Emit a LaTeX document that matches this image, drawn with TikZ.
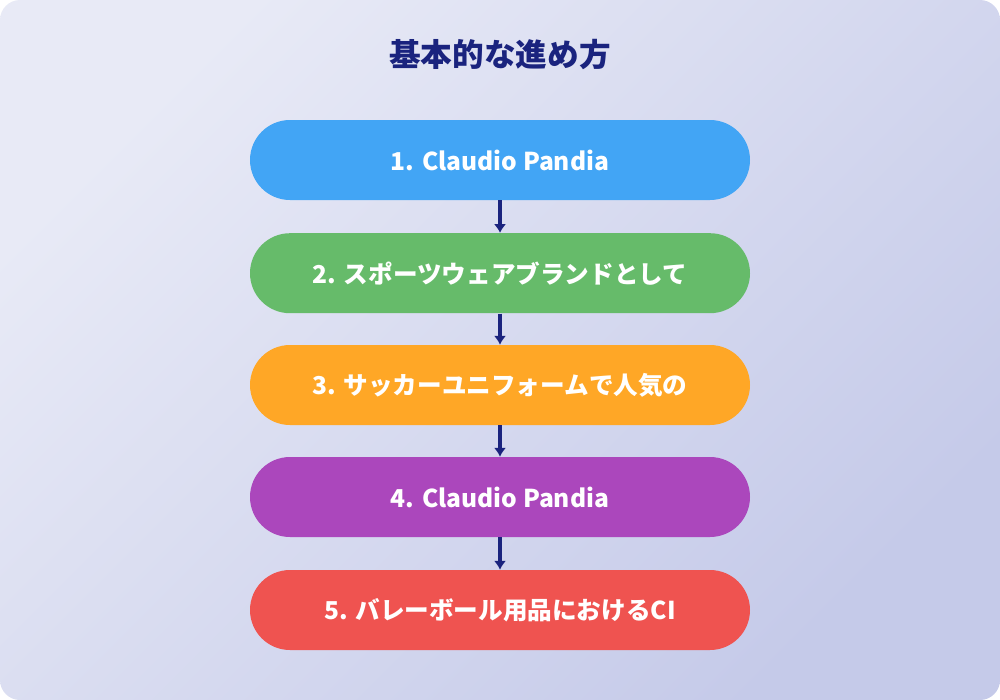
\documentclass[tikz,border=0pt]{standalone}
\usepackage{fontspec}
\setmainfont{Noto Sans CJK JP}
\usetikzlibrary{positioning,arrows.meta}
\definecolor{navy}{HTML}{1A237E}
\definecolor{bgA}{HTML}{E8EAF6}
\definecolor{bgB}{HTML}{C5CAE9}
\definecolor{stepA}{HTML}{42A5F5}
\definecolor{stepB}{HTML}{66BB6A}
\definecolor{stepC}{HTML}{FFA726}
\definecolor{stepD}{HTML}{AB47BC}
\definecolor{stepE}{HTML}{EF5350}
\tikzset{
  stage/.style={draw=none, rounded corners=0.8cm, minimum width=10cm, minimum height=1.6cm,
    text=white, font=\bfseries\fontsize{14}{17}\selectfont},
  link/.style={navy, line width=2pt, -{Latex[length=5pt,width=7pt]}}
}
\begin{document}
\begin{tikzpicture}
\useasboundingbox (0,0) rectangle (20,-14);
\shade[left color=bgA, right color=bgB, shading angle=45, rounded corners=0.4cm]
  (0,0) rectangle (20,-14);
\node[text=navy, font=\bfseries\fontsize{18}{21}\selectfont] (title) at (10,-1.1) {基本的な進め方};
\node[stage, fill=stepA] (s1) at (10,-3.2) {1. Claudio Pandia};
\node[stage, fill=stepB, below=0.65cm of s1.south, anchor=north] (s2) {2. スポーツウェアブランドとして};
\node[stage, fill=stepC, at={(10,-7.7)}] (s3) {3. サッカーユニフォームで人気の};
\node[stage, fill=stepD, at={(10,-9.94)}] (s4) {4. Claudio Pandia};
\node[stage, fill=stepE, at={(10,-12.2)}] (s5) {5. バレーボール用品におけるCI};
\foreach \a/\b in {s1/s2, s2/s3, s3/s4, s4/s5}
  \draw[link] (\a) -- (\b);
\end{tikzpicture}
\end{document}
